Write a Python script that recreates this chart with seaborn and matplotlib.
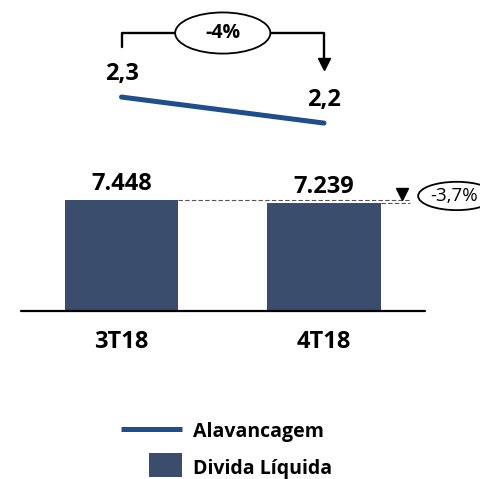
"""
Divida Liquida x Alavancagem - 3T18 vs 4T18
"""

import matplotlib
matplotlib.use("Agg")
import matplotlib.pyplot as plt
from matplotlib.patches import Ellipse, Rectangle
from matplotlib.lines import Line2D
import seaborn as sns

# data
quarters = ["3T18", "4T18"]
divida_liquida = [7448, 7239]
divida_labels = ["7.448", "7.239"]
alavancagem = [2.3, 2.2]
alav_labels = ["2,3", "2,2"]
var_alav = "-4%"
var_divida = "-3,7%"

BAR_COLOR = "#3a4d6c"
LINE_COLOR = "#1f4e8c"

sns.set_theme(style="white")
plt.rcParams["font.family"] = ["Open Sans", "DejaVu Sans"]

W, H = 481, 479
fig = plt.figure(figsize=(W / 100, H / 100), dpi=100)

# x mapping shared by both axes: category 0 at px 121.5, 1 unit = 202.5 px
x0_px, unit_px = 121.5, 202.5
xlim = (-x0_px / unit_px, (W - x0_px) / unit_px)

# ---- bars ----
ax_bar = fig.add_axes([0, 168 / H, 1, 161 / H])
sns.barplot(x=quarters, y=divida_liquida, ax=ax_bar, color=BAR_COLOR,
            width=0.56, saturation=1, edgecolor="none")
ax_bar.set_xlim(*xlim)
ax_bar.set_ylim(0, 10800)
ax_bar.axis("off")

# baseline
ax_bar.plot([-0.496, 1.499], [0, 0], color="black", lw=1.6, clip_on=False)

for i, (v, lab) in enumerate(zip(divida_liquida, divida_labels)):
    ax_bar.annotate(lab, (i, v), xytext=(0, 7.5), textcoords="offset points",
                    ha="center", va="baseline", fontsize=17, fontweight="bold",
                    color="black")
    ax_bar.annotate(quarters[i], (i, 0), xytext=(0, -26.5), textcoords="offset points",
                    ha="center", va="baseline", fontsize=17, fontweight="bold",
                    color="black", annotation_clip=False)

# dashed reference lines and variation bubble
for i, v in enumerate(divida_liquida):
    ax_bar.plot([i + 0.28, 1.425], [v, v], color="#555555", lw=0.8,
                ls=(0, (4, 2)))
ax_bar.plot([1.385], [divida_liquida[0] + 400], marker="v", color="black",
            markersize=9, ls="none")
ax_bar.add_patch(Ellipse((1.655, 7716), 0.38, 1900, facecolor="white",
                         edgecolor="black", lw=1.3, clip_on=False, zorder=3))
ax_bar.text(1.642, 7716, var_divida, ha="center", va="center",
            fontsize=13.5, color="black", zorder=4)

# ---- leverage line ----
ax_line = fig.add_axes([0, (H - 140) / H, 1, 120 / H])
ax_line.patch.set_alpha(0)
xs = list(range(len(quarters)))
sns.lineplot(x=xs, y=alavancagem, ax=ax_line, color=LINE_COLOR, lw=3.6)
ax_line.set_xlim(*xlim)
ax_line.set_ylim(2.135, 2.596)
ax_line.axis("off")

for x, v, lab in zip(xs, alavancagem, alav_labels):
    ax_line.annotate(lab, (x, v), xytext=(0, 12.5), textcoords="offset points",
                     ha="center", va="baseline", fontsize=17, fontweight="bold",
                     color="black")

# bracket with arrow
top = 2.546
ax_line.plot([0, 0, 1, 1], [2.492, top, top, 2.45], color="black", lw=1.7,
             clip_on=False)
ax_line.plot([1], [2.427], marker="v", color="black", markersize=9, ls="none")
ax_line.add_patch(Ellipse((0.5, top), 0.47, 0.158, facecolor="white",
                          edgecolor="black", lw=1.3, clip_on=False, zorder=3))
ax_line.text(0.5, top, var_alav, ha="center", va="center", fontsize=14,
             fontweight="bold", color="black", zorder=4)

# ---- legend ----
fig.add_artist(Line2D([121 / W, 182 / W], [1 - 429 / H, 1 - 429 / H],
                      color=LINE_COLOR, lw=3.6, solid_capstyle="butt"))
fig.text(193 / W, 1 - 437 / H, "Alavancagem", ha="left", va="baseline",
         fontsize=14, fontweight="bold", color="black")
fig.add_artist(Rectangle((149 / W, 1 - 477 / H), 33 / W, 24 / H,
                         facecolor=BAR_COLOR, edgecolor="none",
                         transform=fig.transFigure))
fig.text(193 / W, 1 - 474 / H, "Divida Líquida", ha="left", va="baseline",
         fontsize=14, fontweight="bold", color="black")

fig.savefig("out.png", dpi=100)
plt.close(fig)
